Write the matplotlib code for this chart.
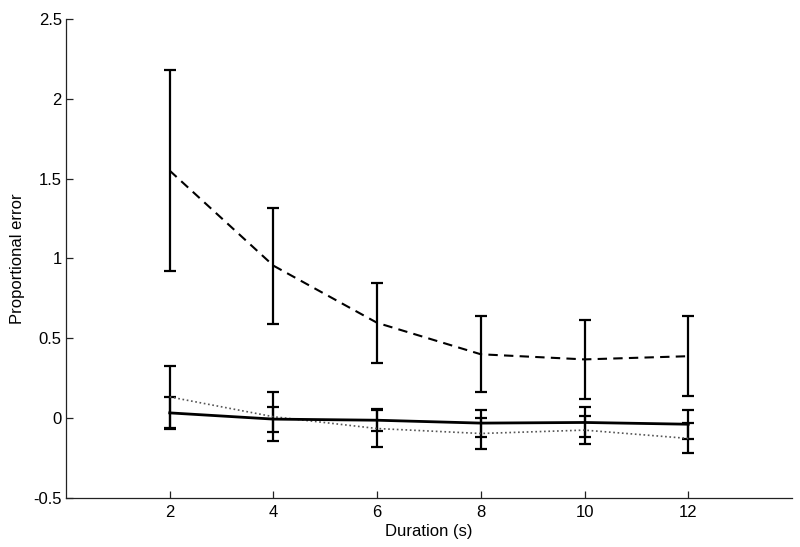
import matplotlib
matplotlib.use('Agg')
import matplotlib.pyplot as plt
from matplotlib.ticker import FixedLocator, FixedFormatter

# durations (s)
durations = [2, 4, 6, 8, 10, 12]

# dashed series
dashed_mean = [1.55, 0.955, 0.597, 0.40, 0.368, 0.388]
dashed_err = [0.63, 0.363, 0.249, 0.239, 0.246, 0.251]

# solid series
solid_mean = [0.033, -0.006, -0.013, -0.031, -0.027, -0.038]
solid_err = [0.100, 0.078, 0.070, 0.085, 0.094, 0.092]

# dotted series
dotted_mean = [0.133, 0.009, -0.065, -0.096, -0.075, -0.127]
dotted_err = [0.193, 0.155, 0.115, 0.100, 0.088, 0.094]

y_ticks = [-0.5, 0, 0.5, 1, 1.5, 2, 2.5]
y_tick_labels = ['-0.5', '0', '0.5', '1', '1.5', '2', '2.5']
x_tick_labels = ['2', '4', '6', '8', '10', '12']

plt.rcParams['font.family'] = ['Liberation Sans', 'DejaVu Sans']

fig = plt.figure(figsize=(8, 5.47), dpi=100)
ax = fig.add_axes([0.0825, 0.0896, 0.9075, 0.8757])

# capsize is half the cap length in points
err_style = dict(fmt='none', ecolor='black', elinewidth=1.6,
                 capsize=4.4, capthick=1.6, zorder=3)

ax.errorbar(durations, dashed_mean, yerr=dashed_err, **err_style)
ax.errorbar(durations, dotted_mean, yerr=dotted_err, **err_style)
ax.errorbar(durations, solid_mean, yerr=solid_err, **err_style)

ax.plot(durations, dashed_mean, color='black', lw=1.5,
        linestyle=(0, (4.5, 3)), zorder=4)
ax.plot(durations, dotted_mean, color='#555555', lw=1.2,
        linestyle=(0, (1, 1.6)), zorder=4)
ax.plot(durations, solid_mean, color='black', lw=2.0, zorder=5)

ax.set_xlim(0, 14)
ax.set_ylim(-0.5, 2.5)

ax.xaxis.set_major_locator(FixedLocator(durations))
ax.xaxis.set_major_formatter(FixedFormatter(x_tick_labels))
ax.yaxis.set_major_locator(FixedLocator(y_ticks))
ax.yaxis.set_major_formatter(FixedFormatter(y_tick_labels))

for side in ['top', 'right']:
    ax.spines[side].set_visible(False)
for side in ['left', 'bottom']:
    ax.spines[side].set_linewidth(0.9)
    ax.spines[side].set_color('#222222')

ax.tick_params(direction='in', length=5, width=0.9, color='#222222',
               labelsize=12, pad=5)
ax.tick_params(axis='y', pad=3)

ax.set_xlabel('Duration (s)', fontsize=12, labelpad=3)
ax.set_ylabel('Proportional error', fontsize=12, labelpad=6)

plt.savefig('out.png', dpi=100)
